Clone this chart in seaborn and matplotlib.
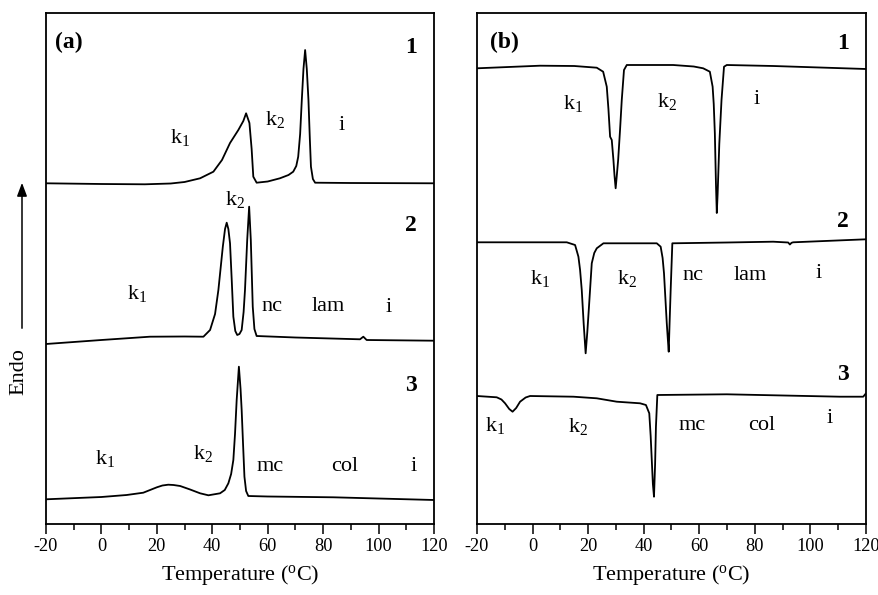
import numpy as np
import pandas as pd
import matplotlib
matplotlib.use("Agg")
import matplotlib.pyplot as plt
from matplotlib.ticker import MultipleLocator
import seaborn as sns

# ---------------- data (temperature in degC, signal in arbitrary stacked units) ----------------
a1_T = [-20, 0, 15.7, 25, 30, 35.6, 40.4, 43.5, 46.4, 49.4, 51.2, 52.2, 53.4, 54.2, 54.8, 56.0, 60, 64.4, 67.5, 69.2, 70.3, 71.0, 71.7, 72.3, 72.9, 73.5, 74.1, 74.7, 75.2, 75.6, 76.3, 77.1, 90, 120]
a1_y = [340.7, 340.0, 339.7, 340.5, 342.0, 345.7, 352.3, 364, 381, 394, 403, 410.7, 401, 375, 347.3, 341.3, 342.5, 345.7, 349, 352.3, 358, 367.3, 390, 424, 455, 474, 455, 424, 385, 357.3, 345, 341.3, 341, 340.7]

a2_T = [-20, 0, 17.5, 30, 36.8, 39.2, 41, 42.2, 43.8, 44.6, 45.2, 45.8, 46.4, 47.0, 47.6, 48.3, 49.0, 49.8, 50.6, 51.3, 51.8, 52.6, 53.3, 53.9, 54.6, 55.2, 56.0, 70, 93.3, 94.5, 95.7, 120]
a2_y = [180, 184, 187.3, 187.5, 187.3, 194, 210, 234, 277.3, 295, 301.3, 295, 280.7, 245, 207.3, 193, 189, 190, 194, 212, 234, 284, 317.3, 284, 217.3, 195, 188, 186.5, 184.7, 187.3, 184, 183.3]

a3_T = [-20, 0, 9.1, 15.1, 20.0, 22, 24.1, 26, 28.4, 32, 35.6, 38.6, 42.8, 44.5, 45.8, 46.8, 47.6, 48.2, 48.8, 49.6, 50.2, 50.6, 51.1, 51.6, 52.2, 53.0, 60, 83.7, 120]
a3_y = [24.7, 27, 29, 31.3, 36.7, 38.5, 39.3, 39, 38, 34.5, 30.7, 28.7, 30.7, 34, 40.7, 50, 64, 90, 124, 157.3, 135, 114, 80, 47.3, 33, 28, 27.5, 26.7, 24]

b1_T = [-20, 2.7, 15, 23.1, 25.4, 26.7, 27.3, 27.9, 28.5, 29.1, 29.5, 29.9, 30.3, 30.8, 31.5, 32.1, 32.9, 33.9, 50.6, 58, 61.4, 63.8, 64.8, 65.2, 65.6, 66.0, 66.3, 66.6, 67.2, 68.0, 68.9, 69.9, 86.6, 120]
b1_y = [455.7, 458.3, 458, 456.3, 452.3, 437.3, 415, 387.3, 384, 364, 348, 335.7, 348, 364, 395, 424, 454, 459, 459, 457.5, 455.7, 452.3, 437.3, 420, 390.7, 340, 311, 330, 380, 424, 457.3, 459, 458, 455]

b2_T = [-20, 12.3, 15.3, 16.5, 17.1, 17.7, 18.4, 19.1, 19.7, 20.3, 21.3, 22.2, 23.1, 25.5, 44.7, 46.1, 46.8, 47.3, 48.3, 48.7, 49.0, 49.3, 49.7, 50.3, 70, 86.6, 92.0, 92.6, 93.2, 93.8, 120]
b2_y = [281.7, 281.7, 279, 267.3, 254, 234, 200, 170.7, 192, 217.3, 260.7, 271, 275.7, 280.7, 280.7, 277.3, 266, 250.7, 200.7, 184, 172.3, 200, 234, 280.7, 281.5, 282.3, 281.5, 279.5, 281.2, 281.7, 284.7]

b3_T = [-20, -12.9, -11.2, -9.9, -8.4, -7.2, -5.9, -4.5, -2.5, -0.9, 14.7, 23.1, 30.3, 38.7, 40.8, 42.0, 42.5, 42.9, 43.3, 43.7, 44.1, 44.4, 44.9, 69.9, 110.6, 119, 120]
b3_y = [128, 126.7, 124.5, 120.7, 115, 112.3, 116, 122.3, 126.5, 128, 127.3, 125.7, 122.3, 120.7, 119, 110.7, 88, 64, 40, 27.3, 60, 97.3, 129, 129.7, 127.3, 127.3, 130.7]

# labels: (text, temperature, y)
a_labels = [("$\\mathrm{k}_1$", 28.4, 386), ("$\\mathrm{k}_2$", 62.6, 404), ("i", 86.7, 399),
            ("$\\mathrm{k}_2$", 48.2, 324), ("$\\mathrm{k}_1$", 12.7, 230.7), ("nc", 61.4, 217.3),
            ("lam", 81.9, 217.3), ("i", 103.5, 216),
            ("$\\mathrm{k}_1$", 1.3, 65.7), ("$\\mathrm{k}_2$", 36.8, 70.7), ("mc", 60.8, 57.3),
            ("col", 87.9, 57.3), ("i", 112.6, 57.3)]
b_labels = [("$\\mathrm{k}_1$", 14.7, 420.7), ("$\\mathrm{k}_2$", 48.3, 422.3), ("i", 80.6, 424),
            ("$\\mathrm{k}_1$", 2.7, 245.7), ("$\\mathrm{k}_2$", 33.9, 245.7), ("nc", 57.8, 249),
            ("lam", 78.2, 249), ("i", 102.8, 250.7),
            ("$\\mathrm{k}_1$", -13.5, 99), ("$\\mathrm{k}_2$", 16.5, 97.3), ("mc", 57.3, 99),
            ("col", 82.5, 99), ("i", 107, 105.7)]
curve_numbers = ["1", "2", "3"]
a_num_y = [0.933, 0.585, 0.272]
b_num_y = [0.941, 0.592, 0.2916]
xticks = [-20, 0, 20, 40, 60, 80, 100, 120]

# ---------------- style ----------------
sns.set_style("ticks")
plt.rcParams["font.family"] = ["Liberation Serif", "DejaVu Serif"]
plt.rcParams["mathtext.fontset"] = "custom"
plt.rcParams["mathtext.rm"] = "Liberation Serif"
plt.rcParams["mathtext.it"] = "Liberation Serif:italic"
plt.rcParams["mathtext.bf"] = "Liberation Serif:bold"

fig = plt.figure(figsize=(8.79, 5.95), dpi=100)
ax_a = fig.add_axes([46 / 879, 1 - 524 / 595, 388 / 879, 511 / 595])
ax_b = fig.add_axes([477 / 879, 1 - 524 / 595, 389 / 879, 511 / 595])

def draw_panel(ax, curves, labels, tag, num_y, tag_x):
    for T, y in curves:
        df = pd.DataFrame({"T": T, "y": y})
        sns.lineplot(data=df, x="T", y="y", ax=ax, color="black", lw=1.3,
                     estimator=None, sort=False)
    ax.set_xlim(-20, 120)
    ax.set_ylim(0, 511)
    ax.set_yticks([])
    ax.set_ylabel("")
    ax.set_xticks(xticks)
    ax.set_xticklabels([str(t) for t in xticks])
    ax.xaxis.set_minor_locator(MultipleLocator(10))
    ax.tick_params(axis="x", which="major", direction="out", length=7, width=1.1,
                   labelsize=13.2, pad=3, color="black", labelcolor="black")
    ax.tick_params(axis="x", which="minor", direction="out", length=4, width=1.1, color="black")
    for s in ax.spines.values():
        s.set_visible(True)
        s.set_linewidth(1.3)
        s.set_color("black")
    ax.set_xlabel("Temperature ($^{\\mathrm{o}}$C)", fontsize=16, labelpad=6, color="black")
    for txt, T, y in labels:
        ax.text(T, y, txt, fontsize=16, ha="center", va="center", color="black")
    ax.text(tag_x, 0.942, tag, transform=ax.transAxes, fontsize=17, fontweight="bold",
            ha="left", va="center", color="black")
    for n, yy in zip(curve_numbers, num_y):
        ax.text(0.94, yy, n, transform=ax.transAxes, fontsize=17, fontweight="bold",
                ha="center", va="center", color="black")

draw_panel(ax_a, [(a1_T, a1_y), (a2_T, a2_y), (a3_T, a3_y)], a_labels, "(a)", a_num_y, 0.022)
draw_panel(ax_b, [(b1_T, b1_y), (b2_T, b2_y), (b3_T, b3_y)], b_labels, "(b)", b_num_y, 0.033)

# Endo label with arrow
fig.text(19 / 879, 1 - 372 / 595, "Endo", rotation=90, ha="center", va="center",
         fontsize=16, color="black")
fig.patches.append(matplotlib.patches.FancyArrowPatch(
    (22 / 879, 1 - 331 / 595), (22 / 879, 1 - 180 / 595), transform=fig.transFigure,
    arrowstyle="-|>,head_length=8,head_width=3", mutation_scale=1, lw=1.1, color="black"))

fig.savefig("out.png", dpi=100)
